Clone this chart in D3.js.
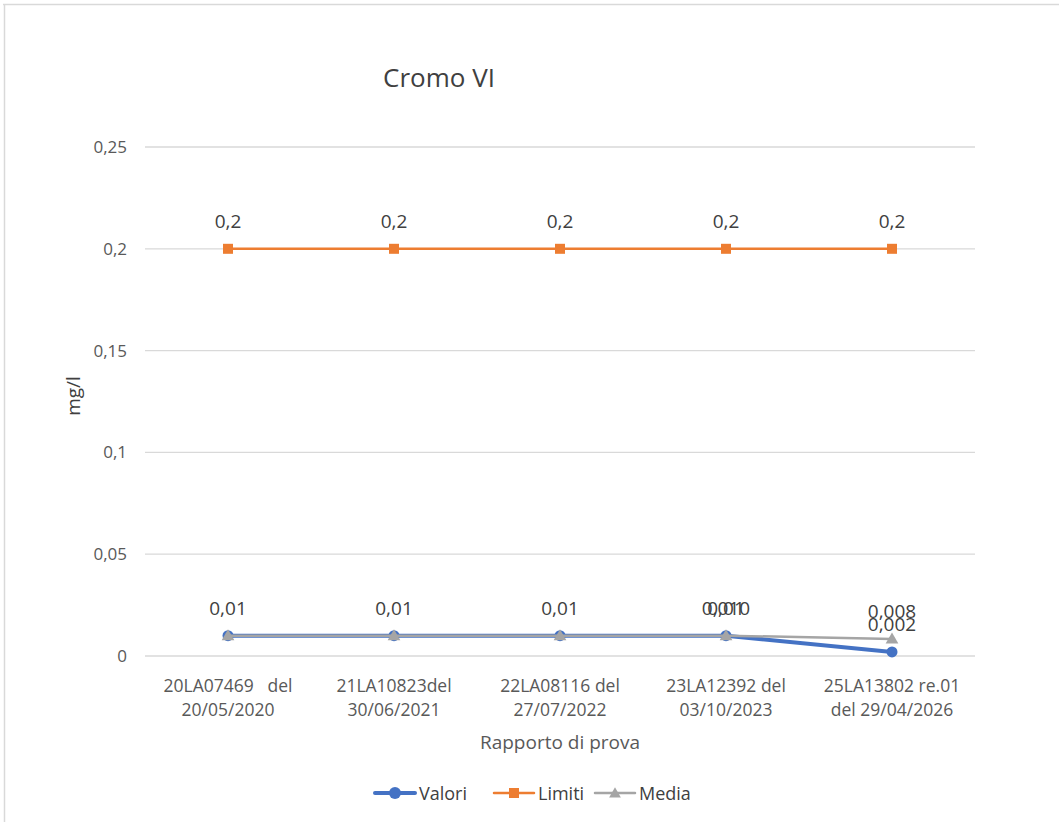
<!DOCTYPE html>
<html><head><meta charset="utf-8">
<script src="https://cdn.jsdelivr.net/npm/d3@7"></script>
<style>body{margin:0;background:#fff;} svg{display:block;font-family:"Open Sans","Noto Sans",sans-serif;}</style>
</head><body>
<svg id="c" width="1059" height="822"></svg>
<script>
const categoriesL1 = ["20LA07469   del", "21LA10823del", "22LA08116 del", "23LA12392 del", "25LA13802 re.01"];
const categoriesL2 = ["20/05/2020", "30/06/2021", "27/07/2022", "03/10/2023", "del 29/04/2026"];
const valori = [0.01, 0.01, 0.01, 0.01, 0.002];
const limiti = [0.2, 0.2, 0.2, 0.2, 0.2];
const media = [0.01, 0.01, 0.01, 0.01, 0.0084];
const valoriLabels = ["0,01", "0,01", "0,01", "0,01", "0,002"];
const limitiLabels = ["0,2", "0,2", "0,2", "0,2", "0,2"];
const mediaLabels = [null, null, null, "0,010", "0,008"];
const yTicks = [0, 0.05, 0.1, 0.15, 0.2, 0.25];
const yTickLabels = ["0", "0,05", "0,1", "0,15", "0,2", "0,25"];

const svg = d3.select("#c");
svg.append("line").attr("x1",3).attr("x2",1059).attr("y1",4.5).attr("y2",4.5).attr("stroke","#d9d9d9").attr("stroke-width",1.5);
svg.append("line").attr("x1",4.5).attr("x2",4.5).attr("y1",4).attr("y2",822).attr("stroke","#d9d9d9").attr("stroke-width",1.5);

const idx = d3.range(categoriesL1.length);
const x = d3.scalePoint().domain(idx).range([145, 975]).padding(0.5);
const y = d3.scaleLinear().domain([0, 0.25]).range([656, 147]);

svg.append("g").selectAll("line").data(yTicks).join("line")
  .attr("x1",145).attr("x2",975).attr("y1",d=>y(d)).attr("y2",d=>y(d))
  .attr("stroke","#d9d9d9").attr("stroke-width",1.3);

svg.append("g").selectAll("text").data(yTicks).join("text")
  .attr("x",127).attr("y",d=>y(d)+6).attr("text-anchor","end")
  .attr("font-size",17).attr("fill","#595959").text((d,i)=>yTickLabels[i]);

const xl = svg.append("g");
idx.forEach(i=>{
  xl.append("text").attr("x",x(i)).attr("y",692).attr("text-anchor","middle").attr("font-size",17.5).attr("fill","#595959").style("white-space","pre").text(categoriesL1[i]);
  xl.append("text").attr("x",x(i)).attr("y",716).attr("text-anchor","middle").attr("font-size",17.5).attr("fill","#595959").text(categoriesL2[i]);
});

svg.append("text").attr("x",439).attr("y",87).attr("text-anchor","middle").attr("font-size",26).attr("fill","#404040").text("Cromo VI");
svg.append("text").attr("x",560).attr("y",749).attr("text-anchor","middle").attr("font-size",19).attr("fill","#595959").text("Rapporto di prova");
svg.append("text").attr("transform","translate(80,396) rotate(-90)").attr("text-anchor","middle").attr("font-size",19).attr("fill","#404040").text("mg/l");

const line = d3.line().x((d,i)=>x(i)).y(d=>y(d));
function series(vals, color, w, shape){
  const g = svg.append("g");
  g.append("path").datum(vals).attr("d",line).attr("fill","none").attr("stroke",color).attr("stroke-width",w).attr("stroke-linejoin","round").attr("stroke-linecap","round");
  vals.forEach((v,i)=>{
    if(shape==="circle") g.append("circle").attr("cx",x(i)).attr("cy",y(v)).attr("r",5.5).attr("fill",color);
    else if(shape==="square") g.append("rect").attr("x",x(i)-5).attr("y",y(v)-5).attr("width",10).attr("height",10).attr("fill",color);
    else g.append("path").attr("d",d3.symbol(d3.symbolTriangle,70)()).attr("transform",`translate(${x(i)},${y(v)+1})`).attr("fill",color);
  });
}
series(valori,"#4472C4",4,"circle");
series(limiti,"#ED7D31",2.5,"square");
series(media,"#A5A5A5",2.5,"triangle");

function labels(vals, labs){
  svg.append("g").selectAll("text").data(vals).join("text")
    .attr("x",(d,i)=>x(i)).attr("y",d=>y(d)-21).attr("text-anchor","middle")
    .attr("font-size",19).attr("fill","#404040").text((d,i)=>labs[i]||"");
}
labels(valori, valoriLabels);
labels(limiti, limitiLabels);
labels(media, mediaLabels);

const leg = [
  {name:"Valori",color:"#4472C4",w:4,shape:"circle",x:375},
  {name:"Limiti",color:"#ED7D31",w:2.5,shape:"square",x:494},
  {name:"Media",color:"#A5A5A5",w:2.5,shape:"triangle",x:595}
];
const lg = svg.append("g");
leg.forEach(l=>{
  lg.append("line").attr("x1",l.x).attr("x2",l.x+40).attr("y1",793).attr("y2",793).attr("stroke",l.color).attr("stroke-width",l.w).attr("stroke-linecap","round");
  if(l.shape==="circle") lg.append("circle").attr("cx",l.x+20).attr("cy",793).attr("r",6).attr("fill",l.color);
  else if(l.shape==="square") lg.append("rect").attr("x",l.x+15).attr("y",788).attr("width",10).attr("height",10).attr("fill",l.color);
  else lg.append("path").attr("d",d3.symbol(d3.symbolTriangle,60)()).attr("transform",`translate(${l.x+20},794)`).attr("fill",l.color);
  lg.append("text").attr("x",l.x+44).attr("y",800).attr("font-size",18).attr("fill","#404040").text(l.name);
});
</script>
</body></html>
